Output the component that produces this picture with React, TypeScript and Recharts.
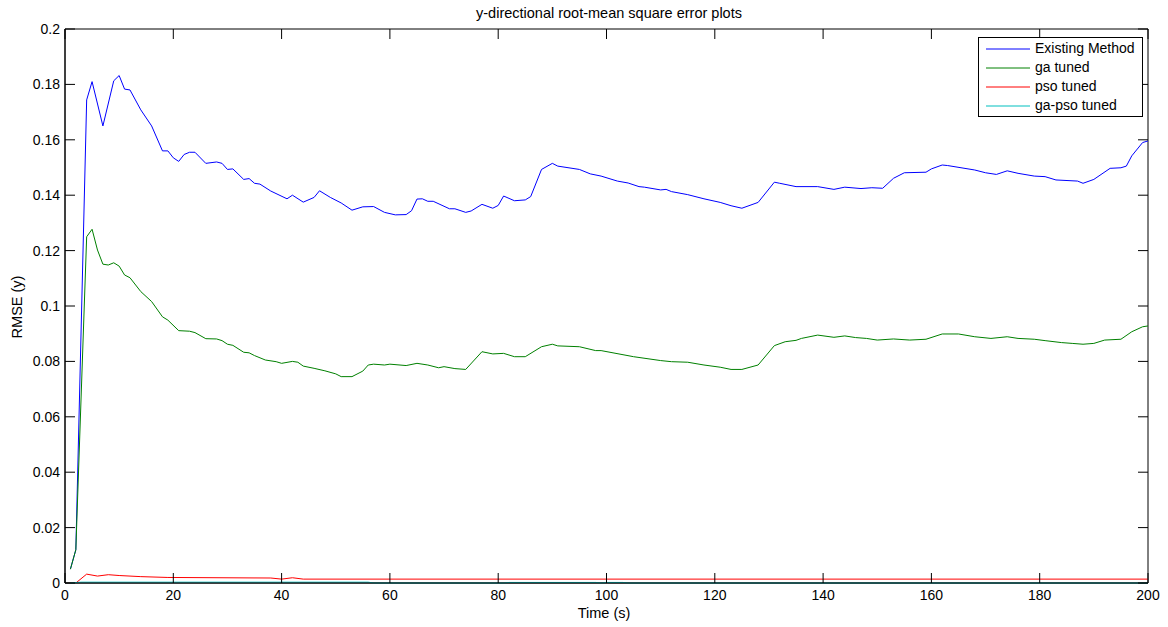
import React from 'react';
import { LineChart, Line, XAxis, YAxis, Legend, ReferenceArea } from 'recharts';

const FONT = "'Liberation Sans', Arial, Helvetica, sans-serif";

// [time (s), rmse]
const existingMethod: [number, number][] = [
  [1, 0.005], [2, 0.012], [4, 0.1744], [5, 0.181], [7, 0.165], [9, 0.1813], [10, 0.1832],
  [11, 0.1783], [12, 0.178], [14, 0.1708], [16, 0.165], [18, 0.156], [19, 0.156], [20, 0.1535],
  [21, 0.1522], [22, 0.1547], [23, 0.1555], [24, 0.1555], [26, 0.1515], [28, 0.152], [29, 0.1515],
  [30, 0.1493], [31, 0.1495], [33, 0.1457], [34, 0.146], [35, 0.1443], [36, 0.144], [38, 0.1415],
  [41, 0.1387], [42, 0.14], [44, 0.1375], [46, 0.1392], [47, 0.1416], [49, 0.1392], [51, 0.1372],
  [53, 0.1346], [55, 0.1358], [57, 0.1359], [59, 0.1338], [61, 0.1329], [63, 0.133], [64, 0.1344],
  [65, 0.1386], [66, 0.1387], [67, 0.1378], [68, 0.1378], [71, 0.1351], [72, 0.1351], [74, 0.1338],
  [75, 0.1343], [77, 0.1367], [79, 0.1353], [80, 0.1363], [81, 0.1397], [83, 0.138], [85, 0.1383],
  [86, 0.1395], [88, 0.1493], [90, 0.1515], [91, 0.1505], [95, 0.1493], [97, 0.1477], [99, 0.1469],
  [102, 0.1451], [104, 0.1444], [106, 0.1431], [107, 0.1429], [110, 0.1419], [111, 0.1421],
  [112, 0.1413], [115, 0.1402], [118, 0.1387], [121, 0.1374], [123, 0.1362], [125, 0.1353],
  [128, 0.1374], [131, 0.1447], [132, 0.1443], [135, 0.1431], [139, 0.1431], [142, 0.1421],
  [144, 0.1429], [147, 0.1424], [149, 0.1427], [151, 0.1425], [153, 0.1461], [155, 0.1481],
  [159, 0.1483], [160, 0.1495], [162, 0.1509], [163, 0.1507], [168, 0.1491], [170, 0.1481],
  [172, 0.1475], [174, 0.1488], [176, 0.1479], [179, 0.1469], [181, 0.1467], [183, 0.1455],
  [187, 0.1451], [188, 0.1443], [190, 0.1457], [193, 0.1497], [195, 0.1499], [196, 0.1505],
  [197, 0.1542], [199, 0.159], [200, 0.1596],
];

const gaTuned: [number, number][] = [
  [1, 0.005], [2, 0.012], [4, 0.125], [5, 0.1277], [6, 0.1202], [7, 0.1151], [8, 0.1148],
  [9, 0.1156], [10, 0.1144], [11, 0.1112], [12, 0.1102], [14, 0.1052], [16, 0.1016], [18, 0.0961],
  [19, 0.0949], [21, 0.0911], [23, 0.0909], [24, 0.0904], [26, 0.0882], [28, 0.0881], [29, 0.0875],
  [30, 0.0862], [31, 0.0858], [33, 0.0833], [34, 0.0831], [35, 0.0821], [37, 0.0805], [39, 0.0799],
  [40, 0.0793], [42, 0.08], [43, 0.0797], [44, 0.0783], [46, 0.0775], [48, 0.0766], [50, 0.0755],
  [51, 0.0745], [53, 0.0745], [55, 0.0765], [56, 0.0787], [57, 0.079], [59, 0.0787], [60, 0.079],
  [63, 0.0785], [65, 0.0793], [67, 0.0787], [69, 0.0777], [70, 0.0781], [72, 0.0774], [74, 0.0771],
  [77, 0.0835], [79, 0.0827], [81, 0.0829], [83, 0.0817], [85, 0.0817], [88, 0.0853], [90, 0.0862],
  [91, 0.0856], [95, 0.0853], [98, 0.0839], [99, 0.0839], [105, 0.0817], [110, 0.0803],
  [112, 0.0799], [115, 0.0797], [118, 0.0787], [121, 0.0779], [123, 0.0771], [125, 0.0771],
  [128, 0.0787], [131, 0.0857], [133, 0.0871], [135, 0.0876], [136, 0.0883], [139, 0.0895],
  [142, 0.0887], [144, 0.0892], [146, 0.0886], [148, 0.0883], [150, 0.0877], [153, 0.0881],
  [156, 0.0877], [159, 0.088], [162, 0.0899], [165, 0.0899], [168, 0.0889], [171, 0.0883],
  [174, 0.0889], [176, 0.0883], [179, 0.088], [181, 0.0875], [184, 0.0868], [186, 0.0865],
  [188, 0.0862], [190, 0.0865], [192, 0.0877], [195, 0.088], [197, 0.0907], [199, 0.0925],
  [200, 0.0928],
];

const psoTuned: [number, number][] = [
  [2, 0], [4, 0.0032], [6, 0.0025], [8, 0.003], [10, 0.0027], [14, 0.0023], [19, 0.002],
  [38, 0.0018], [40, 0.0014], [42, 0.0019], [44, 0.0014], [120, 0.0014], [200, 0.0014],
];

const gaPsoTuned: [number, number][] = [
  [1, 0], [3, 0.0003], [56, 0.0003], [57, 0], [81, 0], [82, 0.0002], [98, 0.0002], [99, 0],
  [100, 0.0002], [103, 0.0002], [104, 0], [200, 0],
];

const seriesNames = ['Existing Method', 'ga tuned', 'pso tuned', 'ga-pso tuned'];
const seriesColors = ['#0000ff', '#008000', '#ff0000', '#00bfbf'];
const seriesData = [existingMethod, gaTuned, psoTuned, gaPsoTuned];

const xTicks = [0, 20, 40, 60, 80, 100, 120, 140, 160, 180, 200];
const yTicks = [0, 0.02, 0.04, 0.06, 0.08, 0.1, 0.12, 0.14, 0.16, 0.18, 0.2];

const W = 1168;
const H = 627;
const MARGIN = { top: 29, right: 20, left: 0, bottom: 0 };
const PLOT_TOP = MARGIN.top;
const PLOT_RIGHT = W - MARGIN.right;
const TICK_LEN = 10;

const toRows = (pts: [number, number][]) => pts.map(([t, v]) => ({ t, v }));

const fmtY = (v: number) => String(Number(v.toFixed(2)));

// matlab-ish inward ticks, mirrored on the top / right edges of the box
const BottomTick = ({ x, y, payload }: any) => (
  <g>
    <line x1={x} x2={x} y1={y} y2={y - TICK_LEN} stroke="#000" />
    <line x1={x} x2={x} y1={PLOT_TOP} y2={PLOT_TOP + TICK_LEN} stroke="#000" />
    <text x={x} y={y + 17} textAnchor="middle" fontSize={14} fontFamily={FONT} fill="#000">
      {payload.value}
    </text>
  </g>
);

const LeftTick = ({ x, y, payload }: any) => (
  <g>
    <line x1={x} x2={x + TICK_LEN} y1={y} y2={y} stroke="#000" />
    <line x1={PLOT_RIGHT} x2={PLOT_RIGHT - TICK_LEN} y1={y} y2={y} stroke="#000" />
    <text x={x - 5} y={y + 5} textAnchor="end" fontSize={14} fontFamily={FONT} fill="#000">
      {fmtY(payload.value)}
    </text>
  </g>
);

const LegendBox = () => (
  <div
    style={{
      width: 165,
      height: 80,
      boxSizing: 'border-box',
      border: '1px solid #000',
      background: '#fff',
      paddingTop: 1,
      fontFamily: FONT,
      fontSize: 14,
      color: '#000',
    }}
  >
    {seriesNames.map((name, i) => (
      <div key={name} style={{ display: 'flex', alignItems: 'center', height: 19 }}>
        <svg width={44} height={4} style={{ marginLeft: 7, marginRight: 5 }}>
          <line x1={0} x2={44} y1={2} y2={2} stroke={seriesColors[i]} strokeWidth={1} />
        </svg>
        <span style={{ fontSize: 14, lineHeight: '19px', whiteSpace: 'nowrap' }}>{name}</span>
      </div>
    ))}
  </div>
);

export default function App() {
  return (
    <div style={{ width: W, height: H, background: '#fff' }}>
      <style>{'body{margin:0;overflow:hidden;background:#fff}'}</style>
      <LineChart width={W} height={H} margin={MARGIN}>
        <XAxis
          dataKey="t"
          type="number"
          domain={[0, 200]}
          ticks={xTicks}
          interval={0}
          height={44}
          tickSize={0}
          tickMargin={0}
          tick={BottomTick}
          axisLine={{ stroke: '#000' }}
          allowDuplicatedCategory={false}
          label={{
            content: () => (
              <text x={604} y={618} textAnchor="middle" fontSize={14.5} fontFamily={FONT} fill="#000">
                Time (s)
              </text>
            ),
          }}
        />
        <YAxis
          type="number"
          domain={[0, 0.2]}
          ticks={yTicks}
          interval={0}
          width={65}
          tickSize={0}
          tickMargin={0}
          tick={LeftTick}
          axisLine={{ stroke: '#000' }}
          label={{
            content: () => (
              <text
                x={21.5}
                y={307}
                transform="rotate(-90 21.5 307)"
                textAnchor="middle"
                fontSize={14.5}
                fontFamily={FONT}
                fill="#000"
              >
                RMSE (y)
              </text>
            ),
          }}
        />
        <ReferenceArea
          x1={0}
          x2={200}
          y1={0}
          y2={0.2}
          fill="none"
          fillOpacity={0}
          stroke="#000"
          strokeWidth={1}
          ifOverflow="visible"
          label={{
            content: () => (
              <text x={609} y={18} textAnchor="middle" fontSize={14.5} fontFamily={FONT} fill="#000">
                y-directional root-mean square error plots
              </text>
            ),
          }}
        />
        <Legend
          layout="vertical"
          align="center"
          verticalAlign="middle"
          content={() => <LegendBox />}
          wrapperStyle={{ left: 978, top: 37, width: 165, height: 80 }}
        />
        {seriesData.map((pts, i) => (
          <Line
            key={seriesNames[i]}
            data={toRows(pts)}
            dataKey="v"
            name={seriesNames[i]}
            type="linear"
            stroke={seriesColors[i]}
            strokeWidth={1}
            dot={false}
            activeDot={false}
            isAnimationActive={false}
          />
        ))}
      </LineChart>
    </div>
  );
}
